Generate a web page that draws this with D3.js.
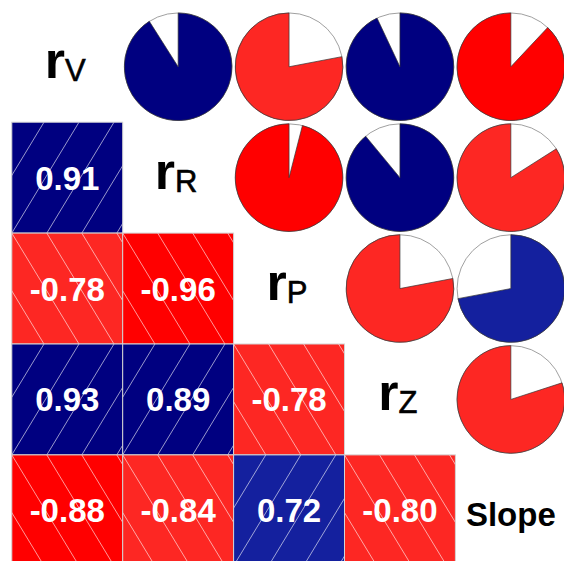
<!DOCTYPE html>
<html>
<head>
<meta charset="utf-8">
<script src="https://cdn.jsdelivr.net/npm/d3@7"></script>
<style>
  body { margin: 0; background: #fff; }
  svg { display: block; font-family: "Liberation Sans", Arial, Helvetica, sans-serif; }
</style>
</head>
<body>
<svg id="chart" width="564" height="561"></svg>
<script>
// Variables of the correlation matrix (diagonal labels: main glyph + subscript)
const variables = ["V", "R", "P", "Z", "Slope"];
const diagMain  = ["r", "r", "r", "r", "Slope"];
const diagSub   = ["V", "R", "P", "Z", ""];

// Pairwise correlations, one row per variable
const corrV     = [ 1.00,  0.91, -0.78,  0.93, -0.88];
const corrR     = [ 0.91,  1.00, -0.96,  0.89, -0.84];
const corrP     = [-0.78, -0.96,  1.00, -0.78,  0.72];
const corrZ     = [ 0.93,  0.89, -0.78,  1.00, -0.80];
const corrSlope = [-0.88, -0.84,  0.72, -0.80,  1.00];
const corrMatrix = [corrV, corrR, corrP, corrZ, corrSlope];

const W = 564, H = 561;
const svg = d3.select("#chart");
svg.append("rect").attr("width", W).attr("height", H).attr("fill", "#fff");

const n = variables.length;
const x = d3.scaleBand().domain(d3.range(n)).range([11.8, 566.3]);
const y = d3.scaleBand().domain(d3.range(n)).range([11.3, 565.8]);
const s = x.bandwidth();

// Diverging palette binned into 14 classes over [-1, 1]
const ramp = d3.scaleLinear()
  .domain([0, 0.25, 0.5, 0.75, 1])
  .range(["red", "salmon", "white", "royalblue", "navy"])
  .interpolate(d3.interpolateRgb);
const color = d3.scaleQuantize()
  .domain([-1, 1])
  .range(d3.range(14).map(i => ramp(i / 13)));

const fmt = d3.formatLocale({decimal: ".", thousands: ",", grouping: [3], currency: ["", ""], minus: "-"}).format(".2f");

const cells = d3.cross(d3.range(n), d3.range(n), (row, col) => ({row, col, r: corrMatrix[row][col]}));

// ---- lower triangle: shaded squares with direction hatching and value ----
const lower = svg.append("g").selectAll("g")
  .data(cells.filter(d => d.row > d.col))
  .join("g")
  .attr("transform", d => `translate(${x(d.col)},${y(d.row)})`);

const defs = svg.append("defs");
defs.selectAll("clipPath")
  .data(cells.filter(d => d.row > d.col))
  .join("clipPath")
  .attr("id", d => `clip-${d.row}-${d.col}`)
  .append("rect").attr("width", s).attr("height", s);

lower.append("rect")
  .attr("width", s).attr("height", s)
  .attr("fill", d => color(d.r));

const hatchGap = 35, hatchSlope = 1.65;
lower.append("g")
  .attr("clip-path", d => `url(#clip-${d.row}-${d.col})`)
  .selectAll("line")
  .data(d => d3.range(-4, 5).map(k => ({k, sign: Math.sign(d.r)})))
  .join("line")
  .attr("x1", d => d.k * hatchGap)
  .attr("y1", 0)
  .attr("x2", d => d.k * hatchGap - d.sign * s / hatchSlope)
  .attr("y2", s)
  .attr("transform", d => d.sign > 0 ? `translate(${s / hatchSlope},0)` : null)
  .attr("stroke", "#fff")
  .attr("stroke-opacity", 0.75)
  .attr("stroke-width", 0.8);

lower.append("rect")
  .attr("width", s).attr("height", s)
  .attr("fill", "none")
  .attr("stroke", "#d3d3d3")
  .attr("stroke-width", 1);

lower.append("text")
  .attr("x", s / 2)
  .attr("y", s / 2 + 12)
  .attr("text-anchor", "middle")
  .attr("fill", "#fff")
  .attr("font-weight", "bold")
  .attr("font-size", 33)
  .text(d => fmt(d.r));

// ---- upper triangle: pies filled by |r| (clockwise positive, counter-clockwise negative) ----
const R = s * 0.485;
const arc = d3.arc().innerRadius(0).outerRadius(R);
const upper = svg.append("g").selectAll("g")
  .data(cells.filter(d => d.row < d.col))
  .join("g")
  .attr("transform", d => `translate(${x(d.col) + s / 2},${y(d.row) + s / 2})`);

upper.append("circle")
  .attr("r", R)
  .attr("fill", "#fff")
  .attr("stroke", "#888")
  .attr("stroke-width", 0.8);

upper.append("path")
  .attr("d", d => arc(d.r > 0
    ? {startAngle: 0, endAngle: 2 * Math.PI * d.r}
    : {startAngle: -2 * Math.PI * Math.abs(d.r), endAngle: 0}))
  .attr("fill", d => color(d.r))
  .attr("stroke", "#333")
  .attr("stroke-width", 0.7);

// ---- diagonal: variable names ----
const diag = svg.append("g").selectAll("text")
  .data(d3.range(n))
  .join("text")
  .attr("x", i => x(i) + s / 2 - (diagSub[i] ? 2 : 0))
  .attr("y", i => y(i) + s / 2 + (diagSub[i] ? 11 : 16))
  .attr("text-anchor", "middle")
  .attr("fill", "#000");

diag.append("tspan")
  .attr("font-weight", "bold")
  .attr("font-size", i => diagSub[i] ? 52 : 33)
  .text(i => diagMain[i]);

diag.filter(i => diagSub[i])
  .append("tspan")
  .attr("dx", 0)
  .attr("dy", 3)
  .attr("font-size", 31)
  .attr("stroke", "#000")
  .attr("stroke-width", 0.6)
  .text(i => diagSub[i]);
</script>
</body>
</html>
